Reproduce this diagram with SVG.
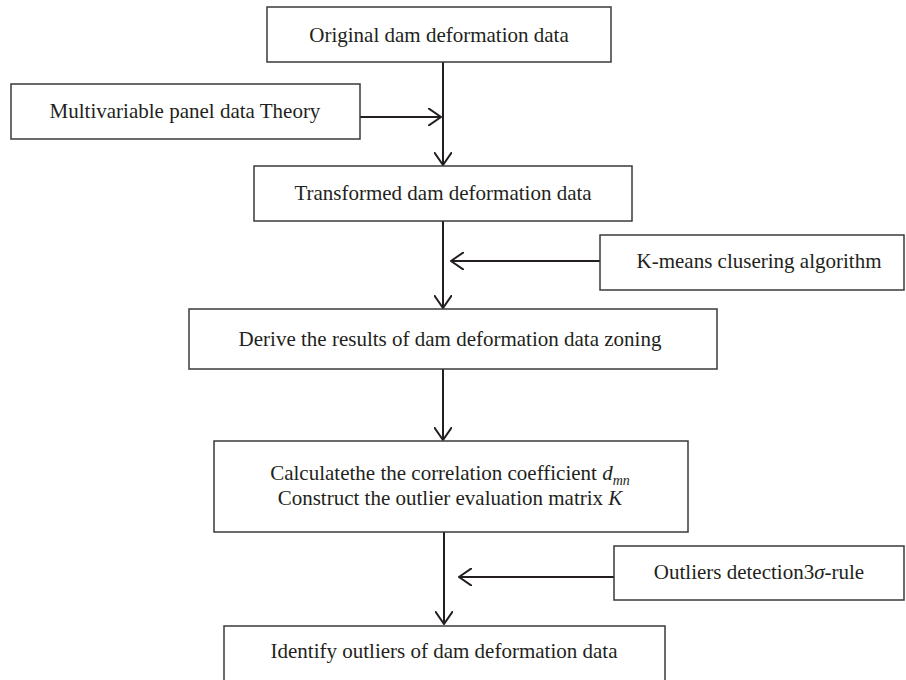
<svg xmlns="http://www.w3.org/2000/svg" width="906" height="680" viewBox="0 0 906 680">
<defs>
<style>
.box{fill:#fff;stroke:#3a3a3a;stroke-width:1.5}
.lbl{font-family:"Liberation Serif","Times New Roman",serif;font-size:21px;fill:#231f20;text-anchor:middle}
.it{font-style:italic}
.sub{font-style:italic;font-size:14px}
.con{fill:none;stroke:#231f20;stroke-width:2}
</style>
<marker id="arr" viewBox="0 0 14 18" refX="13" refY="9" markerWidth="14" markerHeight="18" markerUnits="userSpaceOnUse" orient="auto">
<path d="M0,0 L13,9 L0,18" fill="none" stroke="#231f20" stroke-width="2"/>
</marker>
</defs>
<rect width="906" height="680" fill="#fff"/>
<g id="connectors">
<path class="con" d="M443,62 V165" marker-end="url(#arr)"/>
<path class="con" d="M360,117 H441" marker-end="url(#arr)"/>
<path class="con" d="M443,221 V308" marker-end="url(#arr)"/>
<path class="con" d="M600,261 H451" marker-end="url(#arr)"/>
<path class="con" d="M443,369 V440" marker-end="url(#arr)"/>
<path class="con" d="M444,532 V624" marker-end="url(#arr)"/>
<path class="con" d="M614,577 H459" marker-end="url(#arr)"/>
</g>
<g id="original">
<rect class="box" x="267" y="7" width="344" height="55"/>
<text class="lbl" x="439" y="42">Original dam deformation data</text>
</g>
<g id="multivariable">
<rect class="box" x="11" y="84" width="349" height="55"/>
<text class="lbl" x="185" y="118">Multivariable panel data Theory</text>
</g>
<g id="transformed">
<rect class="box" x="254" y="166" width="378" height="55"/>
<text class="lbl" x="443" y="200">Transformed dam deformation data</text>
</g>
<g id="kmeans">
<rect class="box" x="600" y="235" width="304" height="55"/>
<text class="lbl" x="759" y="268">K-means clusering algorithm</text>
</g>
<g id="derive">
<rect class="box" x="189" y="309" width="528" height="60"/>
<text class="lbl" x="450" y="346">Derive the results of dam deformation data zoning</text>
</g>
<g id="calculate">
<rect class="box" x="214" y="441" width="474" height="91"/>
<text class="lbl" x="450" y="480">Calculatethe the correlation coefficient <tspan class="it">d</tspan><tspan class="sub" dy="5">mn</tspan></text>
<text class="lbl" x="450" y="505">Construct the outlier evaluation matrix <tspan class="it">K</tspan></text>
</g>
<g id="outliers">
<rect class="box" x="614" y="546" width="290" height="54"/>
<text class="lbl" x="759" y="579">Outliers detection3<tspan class="it">σ</tspan>-rule</text>
</g>
<g id="identify">
<rect class="box" x="224" y="626" width="441" height="60"/>
<text class="lbl" x="444" y="658">Identify outliers of dam deformation data</text>
</g>
</svg>
